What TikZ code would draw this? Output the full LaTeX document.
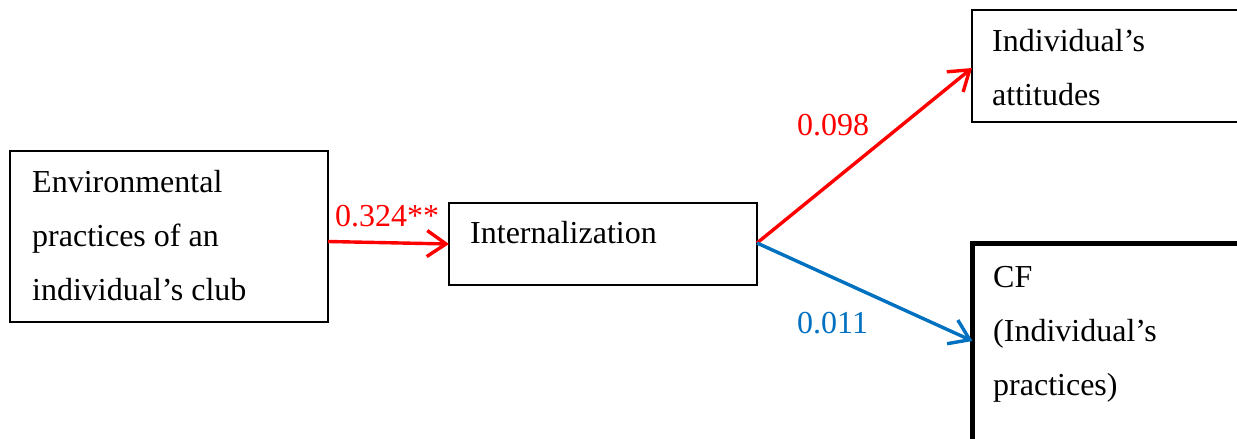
\documentclass[tikz,border=0pt]{standalone}
\usepackage{fontspec}
\setmainfont{Liberation Serif}
\usetikzlibrary{arrows.meta,calc}
\definecolor{pathred}{RGB}{255,0,0}
\definecolor{pathblue}{RGB}{0,112,192}
\tikzset{
  box/.style={draw=black, line width=1.6pt, rectangle, inner sep=0pt, outer sep=0pt, anchor=north west},
  heavybox/.style={box, line width=5pt},
  % multi-line texts are placed by the baseline of their last line
  boxtext/.style={anchor=base west, inner sep=0pt, align=left,
    font=\fontsize{32pt}{54pt}\selectfont},
  coef/.style={anchor=base west, inner sep=0pt, font=\fontsize{32pt}{38pt}\selectfont},
  path/.style={line width=3.4pt, -{Straight Barb[length=19pt,width=26pt,line width=3.4pt]}},
}
\begin{document}
\begin{tikzpicture}[x=1pt,y=-1pt]
  \useasboundingbox (0,0) rectangle (1237,439);
  \clip (0,0) rectangle (1237,439);

  % boxes
  \node[box, minimum width=318pt, minimum height=171pt] (club) at (10,151) {};
  \node[box, minimum width=308pt, minimum height=82pt] (intern) at (449,203) {};
  \node[box, minimum width=320pt, minimum height=112pt] (attit) at (972,10) {};
  \node[heavybox, minimum width=320pt, minimum height=260pt] (pract) at (972.5,243) {};

  % box texts
  \node[boxtext] (clubtext) at (32,300) {Environmental\\practices of an\\individual’s club};
  \node[boxtext] (interntext) at (470,243) {Internalization};
  \node[boxtext] (attittext) at (992,105) {Individual’s\\attitudes};
  \node[boxtext] (practtext) at (993,395) {CF\\(Individual’s\\practices)};

  % paths
  \draw[path, pathred] ([yshift=-5pt]club.east) -- (intern.west);
  \draw[path, pathred] ([yshift=1pt]intern.east) -- ([yshift=-2pt]attit.west);
  \draw[path, pathblue] ([yshift=1pt]intern.east) -- ($(pract.north west)+(0,98)$);

  % coefficients
  \node[coef, text=pathred] (c1) at (335,226) {0.324**};
  \node[coef, text=pathred] (c2) at (797,135) {0.098};
  \node[coef, text=pathblue] (c3) at (797,333) {0.011};
\end{tikzpicture}
\end{document}
